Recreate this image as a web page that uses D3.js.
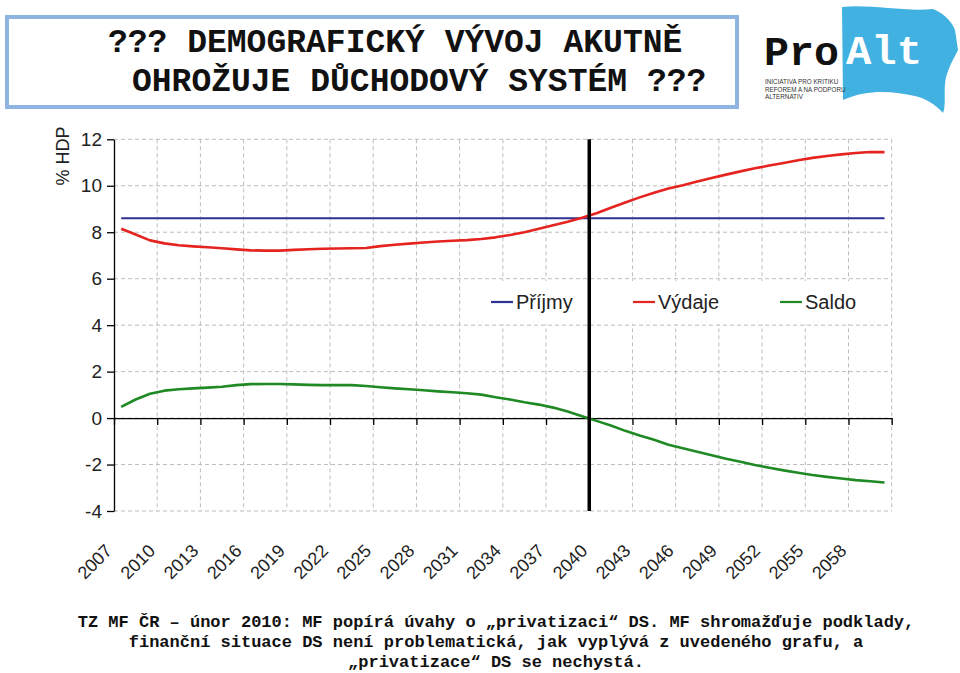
<!DOCTYPE html>
<html>
<head>
<meta charset="utf-8">
<script src="https://cdn.jsdelivr.net/npm/d3@7"></script>
<style>
  html, body { margin: 0; padding: 0; background: #fff; }
  svg { display: block; }
</style>
</head>
<body>
<svg id="chart" width="960" height="673"></svg>
<script>
// ---------- DATA ----------
const years = [2007,2008,2009,2010,2011,2012,2013,2014,2015,2016,2017,2018,2019,2020,
  2021,2022,2023,2024,2025,2026,2027,2028,2029,2030,2031,2032,2033,2034,2035,2036,2037,
  2038,2039,2040,2041,2042,2043,2044,2045,2046,2047,2048,2049,2050,2051,2052,2053,2054,
  2055,2056,2057,2058,2059,2060];
const prijmy = [8.6,8.6,8.6,8.6,8.6,8.6,8.6,8.6,8.6,8.6,8.6,8.6,8.6,8.6,
  8.6,8.6,8.6,8.6,8.6,8.6,8.6,8.6,8.6,8.6,8.6,8.6,8.6,8.6,8.6,8.6,8.6,
  8.6,8.6,8.6,8.6,8.6,8.6,8.6,8.6,8.6,8.6,8.6,8.6,8.6,8.6,8.6,8.6,8.6,
  8.6,8.6,8.6,8.6,8.6,8.6];
const vydaje = [8.15,7.90,7.65,7.52,7.44,7.39,7.35,7.31,7.26,7.22,7.21,7.21,7.24,7.27,
  7.29,7.30,7.31,7.32,7.40,7.46,7.51,7.56,7.60,7.63,7.66,7.71,7.78,7.88,8.00,8.15,8.30,
  8.45,8.62,8.82,9.05,9.28,9.50,9.70,9.88,10.02,10.18,10.33,10.48,10.62,10.75,10.87,10.98,11.10,
  11.20,11.28,11.35,11.41,11.45,11.45];
const saldo = [0.48,0.80,1.05,1.18,1.24,1.28,1.31,1.35,1.42,1.46,1.47,1.47,1.45,1.43,
  1.42,1.42,1.42,1.38,1.33,1.28,1.24,1.20,1.15,1.11,1.07,1.01,0.90,0.80,0.68,0.58,0.45,
  0.28,0.08,-0.12,-0.32,-0.55,-0.75,-0.93,-1.15,-1.30,-1.45,-1.60,-1.75,-1.88,-2.02,-2.14,-2.25,-2.35,
  -2.45,-2.53,-2.60,-2.67,-2.72,-2.77];
const yTicks = [-4,-2,0,2,4,6,8,10,12];
const xTickLabels = [2007,2010,2013,2016,2019,2022,2025,2028,2031,2034,2037,2040,2043,2046,2049,2052,2055,2058];
const markerYear = 2040;
const seriesNames = ["Příjmy","Výdaje","Saldo"];
const titleLines = ["??? DEMOGRAFICKÝ VÝVOJ AKUTNĚ", "OHROŽUJE DŮCHODOVÝ SYSTÉM ???"];
const footLines = [
  "TZ MF ČR – únor 2010: MF popírá úvahy o „privatizaci“ DS. MF shromažďuje podklady,",
  "finanční situace DS není problematická, jak vyplývá z uvedeného grafu, a",
  "„privatizace“ DS se nechystá."
];
const logoSmall = ["INICIATIVA PRO KRITIKU","REFOREM A NA PODPORU","ALTERNATIV"];

// ---------- LAYOUT ----------
const svg = d3.select("#chart");
const L = 114, R = 891.7, T = 139.3, B = 511;
const colors = ["#2e3192", "#e5231f", "#1f8a24"];

const x = d3.scaleBand().domain(years).range([L, R]).paddingInner(0).paddingOuter(0);
const xb = d3.scaleLinear().domain([0, years.length]).range([L, R]);
const y = d3.scaleLinear().domain([-4, 12]).range([B, T]);
const cx = d => x(d) + x.bandwidth() / 2;

// ---------- TITLE BOX ----------
svg.append("rect").attr("x", 7).attr("y", 17).attr("width", 730).attr("height", 90)
  .attr("fill", "#fff").attr("stroke", "#8fb4e2").attr("stroke-width", 4);
const titleX = [108, 132], titleY = [52, 91];
svg.selectAll("text.title").data(titleLines).join("text").attr("class", "title")
  .attr("x", (d, i) => titleX[i]).attr("y", (d, i) => titleY[i])
  .attr("font-family", "'Liberation Mono', monospace").attr("font-weight", "bold")
  .attr("font-size", 33).attr("fill", "#111").text(d => d);

// ---------- LOGO ----------
const logo = svg.append("g");
logo.append("path")
  .attr("d", "M842,7 C870,4 905,12 933,9 C945,14 952,22 955,30 L958,50 C952,62 946,72 945,84 C944,95 946,105 943,113 C935,104 925,98 915,96 C895,92 870,88 843,100 Z")
  .attr("fill", "#41b1e1");
logo.append("text").attr("x", 764).attr("y", 65).attr("font-family", "'Liberation Mono', monospace")
  .attr("font-weight", "bold").attr("font-size", 40).attr("textLength", 75).attr("lengthAdjust", "spacingAndGlyphs")
  .attr("fill", "#111").text("Pro");
logo.append("text").attr("x", 846).attr("y", 64).attr("font-family", "'Liberation Mono', monospace")
  .attr("font-weight", "bold").attr("font-size", 40).attr("textLength", 76).attr("lengthAdjust", "spacingAndGlyphs")
  .attr("fill", "#fff").text("Alt");
logo.selectAll("text.small").data(logoSmall).join("text").attr("class", "small")
  .attr("x", 765).attr("y", (d, i) => 84 + i * 7.5)
  .attr("font-family", "'Liberation Sans Narrow', 'Liberation Sans', sans-serif")
  .attr("font-size", 6.3).attr("fill", "#333").text(d => d);

// ---------- GRID ----------
const grid = svg.append("g");
grid.selectAll("line.h").data(yTicks).join("line").attr("class", "h")
  .attr("x1", L).attr("x2", R).attr("y1", d => y(d)).attr("y2", d => y(d))
  .attr("stroke", "#bdbdbd").attr("stroke-width", 1).attr("stroke-dasharray", "4,3");
const vIdx = d3.range(3, years.length + 1, 3);
grid.selectAll("line.v").data(vIdx).join("line").attr("class", "v")
  .attr("x1", d => xb(d)).attr("x2", d => xb(d)).attr("y1", T).attr("y2", B)
  .attr("stroke", "#bdbdbd").attr("stroke-width", 1).attr("stroke-dasharray", "4,3");

// ---------- LEGEND BACKGROUND ----------
svg.append("rect").attr("x", 482).attr("y", 281).attr("width", 408).attr("height", 43).attr("fill", "#fff");

// ---------- AXES ----------
const yAxis = svg.append("g").attr("transform", `translate(${L},0)`)
  .call(d3.axisLeft(y).tickValues(yTicks).tickSize(7).tickSizeOuter(0).tickPadding(5)
    .tickFormat(d => String(d)));
yAxis.select(".domain").attr("stroke", "#000").attr("stroke-width", 1.3);
yAxis.selectAll(".tick line").attr("stroke", "#000").attr("stroke-width", 1.3);
yAxis.selectAll(".tick text").attr("font-family", "'Liberation Sans', Arial, sans-serif")
  .attr("font-size", 19).attr("fill", "#222");

const xAxis0 = svg.append("g").attr("transform", `translate(0,${y(0)})`)
  .call(d3.axisBottom(xb).tickValues(d3.range(0, years.length + 1, 3)).tickSize(7).tickSizeOuter(0).tickFormat(""));
xAxis0.select(".domain").attr("stroke", "#000").attr("stroke-width", 1.3);
xAxis0.selectAll(".tick line").attr("stroke", "#000").attr("stroke-width", 1.3);

const xLab = svg.append("g").attr("transform", `translate(0,${B})`)
  .call(d3.axisBottom(x).tickValues(xTickLabels).tickSize(0));
xLab.select(".domain").remove();
xLab.selectAll(".tick text")
  .attr("x", 0).attr("y", 0).attr("dy", 0)
  .attr("transform", "translate(-8,41) rotate(-45)")
  .attr("text-anchor", "end")
  .attr("font-family", "'Liberation Sans', Arial, sans-serif")
  .attr("font-size", 18).attr("fill", "#222");

svg.append("text").attr("transform", "translate(69,156) rotate(-90)")
  .attr("text-anchor", "middle").attr("font-family", "'Liberation Sans', Arial, sans-serif")
  .attr("font-size", 18).attr("fill", "#222").text("% HDP");

// ---------- LINES ----------
const series = [prijmy, vydaje, saldo];
const line = d3.line().x((d, i) => cx(years[i])).y(d => y(d));
svg.selectAll("path.series").data(series).join("path").attr("class", "series")
  .attr("d", d => line(d)).attr("fill", "none")
  .attr("stroke", (d, i) => colors[i]).attr("stroke-width", (d, i) => i === 0 ? 2 : 2.6)
  .attr("stroke-linejoin", "round");

// marker line
svg.append("line").attr("x1", x(markerYear)).attr("x2", x(markerYear))
  .attr("y1", T).attr("y2", B).attr("stroke", "#000").attr("stroke-width", 3.5);

// ---------- LEGEND ----------
const legX = [491, 633, 780];
const leg = svg.selectAll("g.leg").data(seriesNames).join("g").attr("class", "leg")
  .attr("transform", (d, i) => `translate(${legX[i]},302)`);
leg.append("line").attr("x1", 0).attr("x2", 22).attr("y1", 0).attr("y2", 0)
  .attr("stroke", (d, i) => colors[i]).attr("stroke-width", 2.2);
leg.append("text").attr("x", 25).attr("y", 7)
  .attr("font-family", "'Liberation Sans', Arial, sans-serif").attr("font-size", 20)
  .attr("fill", "#222").text(d => d);

// ---------- FOOTNOTE ----------
svg.selectAll("text.foot").data(footLines).join("text").attr("class", "foot")
  .attr("x", 496).attr("y", (d, i) => 627 + i * 20).attr("text-anchor", "middle")
  .attr("font-family", "'Liberation Mono', monospace").attr("font-weight", "bold")
  .attr("font-size", 17).attr("fill", "#111").text(d => d);
</script>
</body>
</html>
